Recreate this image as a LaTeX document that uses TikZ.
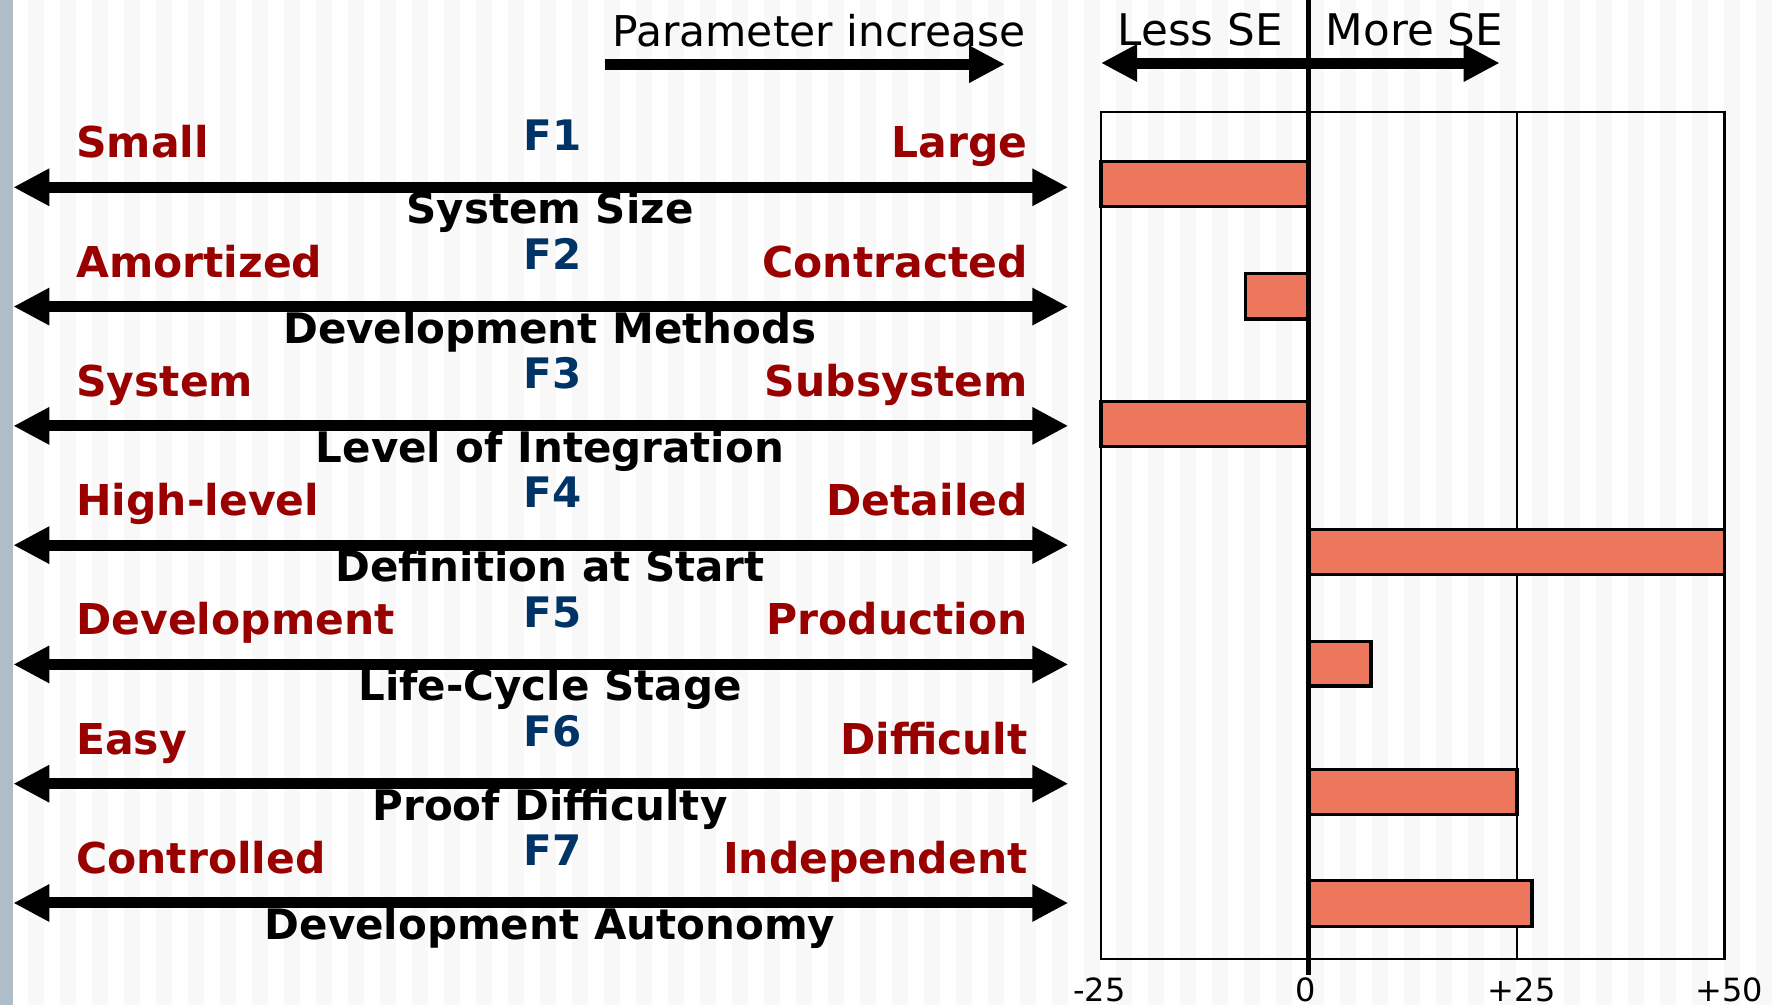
\documentclass[tikz,border=0pt]{standalone}
\usepackage{fontspec}
\setmainfont{DejaVu Sans}
\usetikzlibrary{arrows.meta}
\definecolor{lblred}{HTML}{990000}
\definecolor{lblblue}{HTML}{003366}
\definecolor{barfill}{HTML}{ED775C}
\definecolor{stripe}{HTML}{F8F8F8}
\definecolor{sidebar}{HTML}{AFBDC9}
\tikzset{
  endlbl/.style={text=lblred, font=\bfseries\fontsize{42.5}{48}\selectfont, inner sep=0pt},
  flbl/.style={text=lblblue, font=\bfseries\fontsize{42}{48}\selectfont, inner sep=0pt, anchor=base},
  titlelbl/.style={text=black, font=\bfseries\fontsize{42}{48}\selectfont, inner sep=0pt, anchor=base},
  headlbl/.style={text=black, font=\fontsize{42.4}{48}\selectfont, inner sep=0pt},
  selbl/.style={text=black, font=\fontsize{43.6}{48}\selectfont, inner sep=0pt},
  ticklbl/.style={text=black, font=\fontsize{32}{38}\selectfont, inner sep=0pt, anchor=base},
  bigarrow/.style={line width=11pt, {Triangle[length=36pt,width=35pt]}-{Triangle[length=36pt,width=35pt]}},
  onearrow/.style={line width=11pt, -{Triangle[length=36pt,width=35pt]}},
  bar/.style={fill=barfill, draw=black, line width=3.3pt},
}
\begin{document}
\begin{tikzpicture}[x=1pt,y=-1pt]
\useasboundingbox (0,0) rectangle (1777,1005);
% background
\fill[white] (0,0) rectangle (1777,1005);
\foreach \k in {1,...,55} \fill[stripe] ({32*\k-4},0) rectangle ({32*\k+12},1005);
\fill[sidebar] (0,0) rectangle (13.3,1005);

% header left
\node[headlbl, anchor=base east] (param) at (1025.5,46) {Parameter increase};
\coordinate (pA) at (605,64.2);
\coordinate (pB) at (1005,64.2);
\draw[onearrow] (pA) -- (pB);

% rows
\foreach \i/\L/\R/\T in {1/Small/Large/System Size,
  2/Amortized/Contracted/Development Methods,
  3/System/Subsystem/Level of Integration,
  4/High-level/Detailed/Definition at Start,
  5/Development/Production/Life-Cycle Stage,
  6/Easy/Difficult/Proof Difficulty,
  7/Controlled/Independent/Development Autonomy}{
  \pgfmathsetmacro\ay{187.3+119.28*(\i-1)}
  \node[titlelbl] (title\i) at (550,\ay+36.5) {\T};
  \coordinate (aw\i) at (13.3,\ay);
  \coordinate (ae\i) at (1068.3,\ay);
  \draw[bigarrow] (aw\i) -- (ae\i);
  \node[endlbl, anchor=base west] (left\i) at (76,\ay-29.5) {\L};
  \node[endlbl, anchor=base east] (right\i) at (1028,\ay-29.5) {\R};
  \node[flbl] (f\i) at (552.5,\ay-37.3) {F\i};
}

% chart header
\node[selbl, anchor=base west] (less) at (1117.5,45) {Less SE};
\node[selbl, anchor=base west] (more) at (1325.5,45) {More SE};
\coordinate (seL) at (1101,63);
\coordinate (seR) at (1499.7,63);
\draw[bigarrow] (seL) -- (seR);

% chart frame
\draw[line width=2.2pt] (1101,111.7) rectangle (1724.5,959.3);
\draw[line width=2.2pt] (1517,111.7) -- (1517,959.3);

% bars
\draw[bar] (1101,161.6) rectangle (1308,206.7);
\draw[bar] (1245.6,273.3) rectangle (1308,319.1);
\draw[bar] (1101,401.6) rectangle (1308,446.4);
\draw[bar] (1308,529.6) rectangle (1724.5,574.4);
\draw[bar] (1308,641.6) rectangle (1371,686.1);
\draw[bar] (1308,769.6) rectangle (1517,814.4);
\draw[bar] (1308,880.6) rectangle (1531.9,926.4);

% zero axis
\coordinate (z0) at (1308,0);
\coordinate (z1) at (1308,975);
\draw[line width=5pt] (z0) -- (z1);

% ticks
\node[ticklbl] (tm25) at (1099.5,1001) {-25};
\node[ticklbl] (t0) at (1306,1001) {0};
\node[ticklbl] (t25) at (1521.7,1001) {+25};
\node[ticklbl] (t50) at (1729.5,1001) {+50};
\end{tikzpicture}
\end{document}
